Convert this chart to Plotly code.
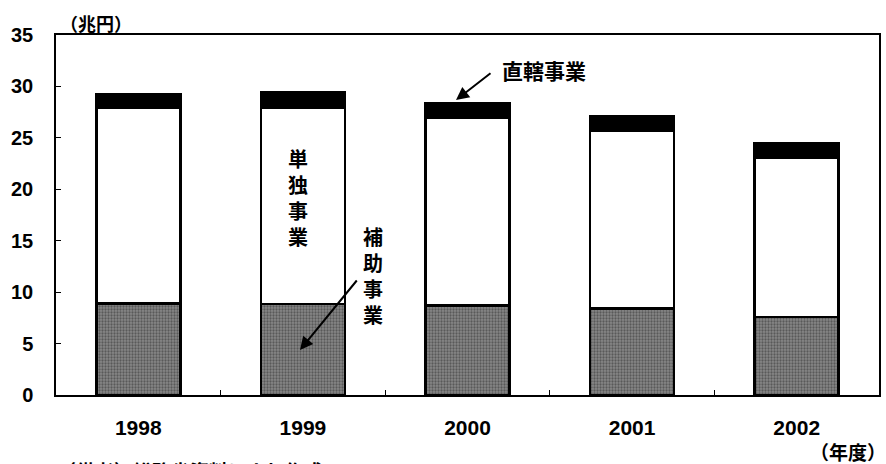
import plotly.graph_objects as go

years = ["1998", "1999", "2000", "2001", "2002"]
hojo = [8.9, 8.85, 8.7, 8.4, 7.6]        # 補助事業
tandoku = [19.0, 19.1, 18.3, 17.3, 15.5]  # 単独事業
chokkatsu = [1.3, 1.45, 1.35, 1.4, 1.4]   # 直轄事業
y_ticks = [0, 5, 10, 15, 20, 25, 30, 35]

W, H = 886, 464
L, R, T, B = 56, 7, 35, 69
pw = W - L - R
ph = H - T - B
ymax = 35.0


def px_x(px):
    return (px - L) / pw


def px_y(py):
    return (H - B - py) / ph


CJK = "Noto Sans CJK JP"
NUM = "Liberation Sans"

fig = go.Figure()
line = dict(color="black", width=2.5)
fig.add_trace(go.Bar(x=years, y=hojo, name="補助事業", width=0.51,
                     marker=dict(color="#7a7a7a", line=line,
                                 pattern=dict(shape=".", fgcolor="#2a2a2a", bgcolor="#888888",
                                              size=3, solidity=0.45))))
fig.add_trace(go.Bar(x=years, y=tandoku, name="単独事業", width=0.51,
                     marker=dict(color="white", line=line)))
fig.add_trace(go.Bar(x=years, y=chokkatsu, name="直轄事業", width=0.51,
                     marker=dict(color="black", line=line)))

fig.update_layout(
    barmode="stack",
    width=W, height=H,
    margin=dict(l=L, r=R, t=T, b=B, pad=0, autoexpand=False),
    paper_bgcolor="white", plot_bgcolor="white",
    showlegend=False,
    font=dict(family=NUM, size=20, color="black"),
)
fig.update_yaxes(range=[0, ymax], tickvals=y_ticks, ticks="inside", ticklen=5,
                 tickcolor="black", showgrid=False, zeroline=False, automargin=False,
                 showline=True, linecolor="black", linewidth=1.5, mirror=True,
                 ticklabelstandoff=17,
                 tickfont=dict(family=NUM, size=20, color="black", weight="bold"))
fig.update_xaxes(ticks="inside", ticklen=5, tickcolor="black", tickson="boundaries",
                 showgrid=False, showline=True, linecolor="black", linewidth=1.5,
                 mirror=True, ticklabelstandoff=13, automargin=False,
                 tickfont=dict(family=NUM, size=21, color="black", weight="bold"))


def note(text, cx, cy, size=20, **kw):
    d = dict(text=text, xref="paper", yref="paper", x=px_x(cx), y=px_y(cy),
             xanchor="center", yanchor="middle", showarrow=False,
             font=dict(family=CJK, size=size, color="black", weight="bold"))
    d.update(kw)
    return d


def arrow(hx, hy, tx, ty):
    return dict(text="", xref="paper", yref="paper", x=px_x(hx), y=px_y(hy),
                ax=tx - hx, ay=ty - hy, showarrow=True, arrowhead=2, arrowsize=1.3,
                arrowwidth=2, arrowcolor="black")


ann = [
    note("（兆円）", 96, 23, size=18),
    note("（年度）", 848, 452, size=19),
    note("（備考）総務省資料により作成", 55, 455, size=19, xanchor="left", yanchor="top"),
    note("単<br>独<br>事<br>業", 298, 198),
    note("補<br>助<br>事<br>業", 373, 275),
    note("直轄事業", 544, 70, size=21),
    arrow(300, 350, 358, 279),
    arrow(456, 100, 492, 72),
]
fig.update_layout(annotations=ann)

fig.write_html("out.html", post_script="document.body.style.margin='0';",
               config={"displayModeBar": False})
